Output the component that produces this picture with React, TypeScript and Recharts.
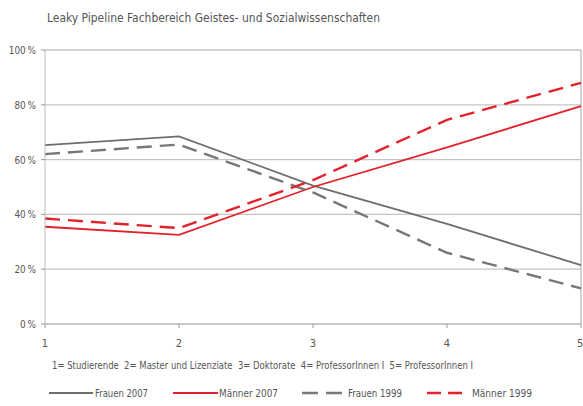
import React from "react";
import { LineChart, Line, XAxis, YAxis, CartesianGrid, ReferenceLine } from "recharts";

const stages = [1, 2, 3, 4, 5];
const frauen2007 = [65.3, 68.5, 50.5, 36.5, 21.5];
const maenner2007 = [35.5, 32.5, 50, 64.5, 79.5];
const frauen1999 = [62, 65.5, 48, 26, 13];
const maenner1999 = [38.5, 35, 52.5, 74.5, 88];
const yTicks = [0, 20, 40, 60, 80, 100];
const titleText = "Leaky Pipeline Fachbereich Geistes- und Sozialwissenschaften";
const noteText = "1= Studierende  2= Master und Lizenziate  3= Doktorate  4= ProfessorInnen I  5= ProfessorInnen I";

const data = stages.map((s, i) => ({
  stage: s,
  f2007: frauen2007[i],
  m2007: maenner2007[i],
  f1999: frauen1999[i],
  m1999: maenner1999[i],
}));

const FONT = '"Liberation Sans Narrow", "DejaVu Sans Condensed", "Arial Narrow", sans-serif';
const GREY = "#6e6e6e";
const GREY_DASH = "#777";
const RED = "#e2222b";
const TEXT = "#555";

const legendItems = [
  { name: "Frauen 2007", color: GREY, dash: undefined as string | undefined, x1: 49, x2: 93, tx: 95, tl: 53 },
  { name: "Männer 2007", color: RED, dash: undefined, x1: 173, x2: 218, tx: 219, tl: 59 },
  { name: "Frauen 1999", color: GREY_DASH, dash: "16 8", x1: 302, x2: 342, tx: 348, tl: 54 },
  { name: "Männer 1999", color: RED, dash: "14 7", x1: 427, x2: 462, tx: 472, tl: 60 },
];

const YTick = (props: any) => {
  const { x, y, payload } = props;
  const label = `${payload.value}\u2009%`;
  return (
    <text x={x} y={y} dy={4} textAnchor="end" fill={TEXT} fontSize={11} fontFamily={FONT} transform={`translate(${x},0) scale(0.9,1) translate(${-x},0)`}>
      {label}
    </text>
  );
};

export default function App() {
  return (
    <div style={{ position: "absolute", left: 0, top: 0, width: 583, height: 406, background: "#fff" }}>
      <LineChart width={583} height={406} data={data} margin={{ top: 50, right: 2, left: 0, bottom: 52 }}>
        <CartesianGrid vertical={false} stroke="#c4c4c4" strokeWidth={1.3} />
        <XAxis
          dataKey="stage"
          type="number"
          domain={[1, 5]}
          ticks={stages}
          height={30}
          tickSize={4}
          tickMargin={11}
          stroke="#bbb"
          tick={{ fill: TEXT, fontSize: 11, fontFamily: FONT }}
          tickLine={{ stroke: "#999" }}
        />
        <YAxis
          domain={[0, 100]}
          ticks={yTicks}
          width={45}
          tickSize={4}
          tickMargin={5}
          stroke="#bbb"
          tick={<YTick />}
          tickLine={{ stroke: "#999" }}
        />
        <ReferenceLine x={5} stroke="#bbb" strokeWidth={1.3} />
        <Line dataKey="f2007" name="Frauen 2007" stroke={GREY} strokeWidth={1.8} dot={false} isAnimationActive={false} />
        <Line dataKey="m2007" name="Männer 2007" stroke={RED} strokeWidth={1.8} dot={false} isAnimationActive={false} />
        <Line dataKey="f1999" name="Frauen 1999" stroke={GREY_DASH} strokeWidth={2.4} strokeDasharray="15 8" dot={false} isAnimationActive={false} />
        <Line dataKey="m1999" name="Männer 1999" stroke={RED} strokeWidth={2.4} strokeDasharray="15 8" dot={false} isAnimationActive={false} />
      </LineChart>
      <svg width={583} height={406} style={{ position: "absolute", left: 0, top: 0, pointerEvents: "none" }}>
        <text x={47} y={22} fontSize={12.5} fontFamily={FONT} fill={TEXT} textLength={333} lengthAdjust="spacingAndGlyphs">
          {titleText}
        </text>
        <text x={52} y={369} fontSize={11} fontFamily={FONT} fill={TEXT} textLength={421} lengthAdjust="spacingAndGlyphs" style={{ whiteSpace: "pre" }}>
          {noteText}
        </text>
        {legendItems.map((it) => (
          <g key={it.name}>
            <line x1={it.x1} y1={393} x2={it.x2} y2={393} stroke={it.color} strokeWidth={it.dash ? 2.4 : 1.8} strokeDasharray={it.dash} />
            <text x={it.tx} y={397} fontSize={11} fontFamily={FONT} fill={TEXT} textLength={it.tl} lengthAdjust="spacingAndGlyphs">
              {it.name}
            </text>
          </g>
        ))}
      </svg>
    </div>
  );
}
